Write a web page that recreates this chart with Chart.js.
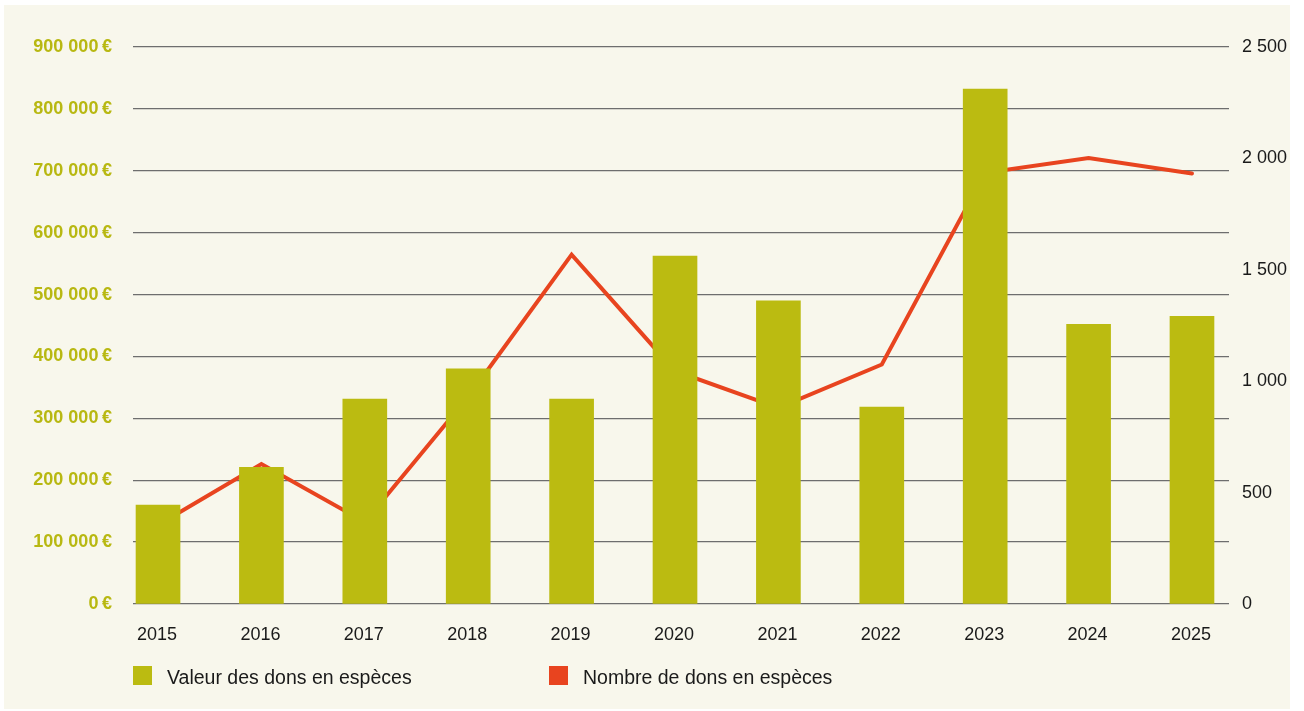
<!DOCTYPE html>
<html>
<head>
<meta charset="utf-8">
<script src="https://cdn.jsdelivr.net/npm/chart.js@4.4.0/dist/chart.umd.min.js"></script>
<style>
  html, body { margin: 0; padding: 0; background: #fff; }
  #box { position: absolute; left: 4px; top: 5px; width: 1286px; height: 704px; background: #f8f7ec; }
  #wrap { position: absolute; left: 0; top: 0; width: 1286px; height: 704px; }
  .sw { position: absolute; top: 661px; width: 19px; height: 19px; }
  .lbl { position: absolute; top: 662px; font: 19.5px "Liberation Sans", Arial, sans-serif; line-height: 20px; color: #1a1a1a; white-space: nowrap; }
</style>
</head>
<body>
<div id="box">
  <div id="wrap"><canvas id="myChart"></canvas></div>
  <div class="sw" style="left:129px;background:#bbbb11"></div>
  <div class="lbl" style="left:163px">Valeur des dons en espèces</div>
  <div class="sw" style="left:545px;background:#e8441f"></div>
  <div class="lbl" style="left:579px">Nombre de dons en espèces</div>
</div>
<script>
var years = ['2015', '2016', '2017', '2018', '2019', '2020', '2021', '2022', '2023', '2024', '2025'];
var valeurDons = [160000, 221000, 331000, 380000, 331000, 562000, 490000, 318000, 832000, 452000, 465000];
var nombreDons = [355, 628, 368, 930, 1568, 1046, 880, 1075, 1935, 2002, 1932];

function groupDigits(v) {
  return String(v).replace(/\B(?=(\d{3})+(?!\d))/g, ' ');
}

Chart.defaults.font.family = '"Liberation Sans", Arial, sans-serif';

var ctx = document.getElementById('myChart').getContext('2d');
var myChart = new Chart(ctx, {
  data: {
    datasets: [{
      type: 'bar',
      label: 'Valeur des dons en espèces',
      data: valeurDons.map(function (v, i) { return {x: i, y: v}; }),
      backgroundColor: '#bbbb11',
      barThickness: 44,
      yAxisID: 'y',
      order: 0
    }, {
      type: 'line',
      label: 'Nombre de dons en espèces',
      data: nombreDons.map(function (v, i) { return {x: i, y: v}; }),
      borderColor: '#e8441f',
      borderWidth: 4,
      pointRadius: 0,
      tension: 0,
      borderJoinStyle: 'miter',
      borderCapStyle: 'round',
      yAxisID: 'y1',
      order: 1
    }]
  },
  options: {
    responsive: true,
    maintainAspectRatio: false,
    animation: false,
    layout: { padding: { top: 42, bottom: 45, left: 0, right: 0 } },
    plugins: {
      legend: { display: false },
      tooltip: { enabled: false }
    },
    scales: {
      x: {
        type: 'linear',
        offset: false,
        min: -0.242,
        max: 10.358,
        grid: { display: false, offset: false },
        border: { display: false },
        afterBuildTicks: function (s) { s.ticks = years.map(function (y, i) { return {value: i}; }); },
        afterFit: function (s) { s.height = 60; },
        ticks: {
          callback: function (v) { return years[v]; },
          color: '#1a1a1a',
          font: { size: 18 },
          padding: 12,
          labelOffset: -1,
          maxRotation: 0,
          autoSkip: false
        }
      },
      y: {
        position: 'left',
        min: 0,
        max: 900000,
        afterFit: function (s) { s.width = 129; },
        grid: { color: '#6e6e6e', lineWidth: 1.3, drawTicks: false },
        border: { display: false },
        ticks: {
          stepSize: 100000,
          callback: function (v) { return groupDigits(v) + '\u202f€'; },
          color: '#b8b812',
          font: { size: 18, weight: 'bold' },
          padding: 21
        }
      },
      y1: {
        position: 'right',
        min: 0,
        max: 2500,
        afterFit: function (s) { s.width = 61; },
        grid: { display: false, drawTicks: false },
        border: { display: false },
        ticks: {
          stepSize: 500,
          callback: function (v) { return groupDigits(v); },
          color: '#1a1a1a',
          font: { size: 18 },
          padding: 13
        }
      }
    }
  }
});
</script>
</body>
</html>
